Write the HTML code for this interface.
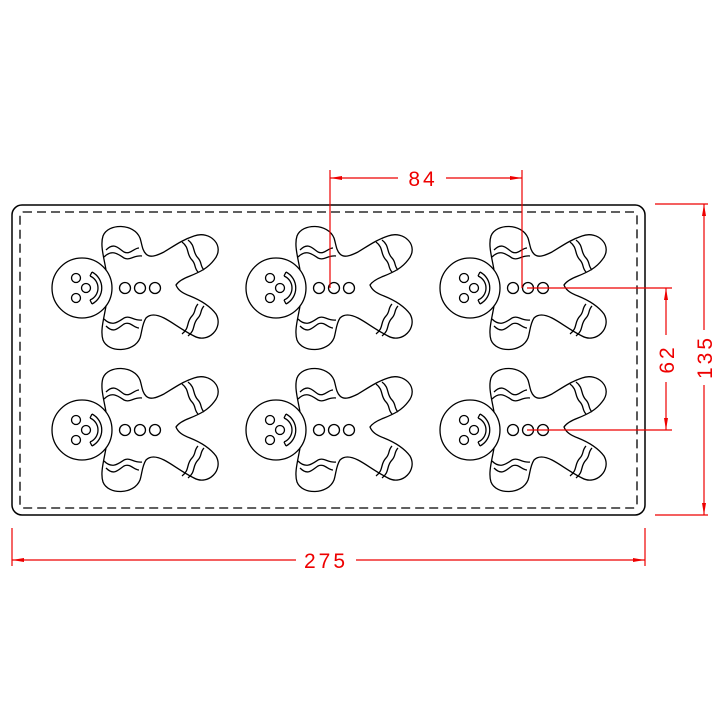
<!DOCTYPE html>
<html><head><style>body{margin:0;background:#fff}svg{display:block}</style></head><body>
<svg width="720" height="720" viewBox="0 0 720 720" xmlns="http://www.w3.org/2000/svg">
<defs>
<g id="m" fill="none" stroke="#000" stroke-width="1.3">
<circle cx="0" cy="0" r="30"/>
<path d="M24,-18 C22,-30 18,-43 21,-52 C26,-65 52,-65 58,-50 C60,-44 60,-38 64,-34 C68,-30 74,-32 82,-36 C92,-42 100,-48 112,-52 C128,-58 144,-42 132,-28 C126,-20 118,-16 108,-12 C100,-9 96,-6 94,-3 C96,2 100,5 108,8 C118,12 128,18 134,26 C142,40 126,56 112,48 C100,42 90,34 82,30 C74,26 68,26 64,30 C60,36 60,44 58,50 C52,65 26,65 21,52 C18,43 22,30 24,18"/>
<path d="M24,-38 C32,-46 36,-40 42,-36 C48,-33 52,-40 57,-40 M22,-31 C30,-39 36,-34 42,-30 C48,-27 52,-33 60,-32"/>
<path d="M24,38 C32,46 36,40 42,36 C48,33 52,40 57,40 M22,31 C30,39 36,34 42,30 C48,27 52,33 60,32"/>
<path d="M100,-46 C108,-40 104,-34 110,-28 C114,-24 112,-20 116,-16 M106,-48 C114,-42 110,-36 116,-30 C120,-26 118,-22 122,-18"/>
<path d="M100,46 C108,40 104,34 110,28 C114,24 112,20 116,16 M106,48 C114,42 110,36 116,30 C120,26 118,22 122,18"/>
<circle cx="-6" cy="-10" r="4.5"/><circle cx="-6" cy="10" r="4.5"/><circle cx="4" cy="0" r="4.5"/>
<path d="M8,-12 A13,13 0 0 1 8,12 M10,-16 A18,18 0 0 1 10,16 M8,-12 L10,-16 M8,12 L10,16"/>
<circle cx="43" cy="0" r="5.5"/><circle cx="58" cy="0" r="5.5"/><circle cx="73" cy="0" r="5.5"/>
</g>
</defs>
<rect x="12" y="205" width="633" height="310" rx="10" fill="none" stroke="#000" stroke-width="1.5"/>
<rect x="20" y="212" width="617" height="296" rx="3" fill="none" stroke="#000" stroke-width="1.3" stroke-dasharray="9,5"/>
<use href="#m" x="82" y="288"/><use href="#m" x="276" y="288"/><use href="#m" x="470" y="288"/>
<use href="#m" x="82" y="430"/><use href="#m" x="276" y="430"/><use href="#m" x="470" y="430"/>
<g stroke="#e00" stroke-width="1.2" fill="none">
<path d="M12,528V566 M645,528V566 M12,560H296 M356,560H645"/>
<path d="M655,204H708 M655,515H708 M704,204V330 M704,385V515"/>
<path d="M527,288H672 M527,430H672 M666,288V335 M666,382V430"/>
<path d="M330,170V288 M522,170V288 M330,178H398 M446,178H522"/>
</g>
<g fill="#e00">
<path d="M12,560l12,-2v4z M645,560l-12,-2v4z"/>
<path d="M704,204l-2,12h4z M704,515l-2,-12h4z"/>
<path d="M666,288l-2,12h4z M666,430l-2,-12h4z"/>
<path d="M330,178l12,-2v4z M522,178l-12,-2v4z"/>
</g>
<g fill="#e00" font-family="Liberation Sans, sans-serif" font-size="21" text-anchor="middle">
<text x="326" y="568" letter-spacing="3">275</text>
<text x="423" y="186" letter-spacing="3">84</text>
<text transform="translate(674,359) rotate(-90)" letter-spacing="3">62</text>
<text transform="translate(712,357) rotate(-90)" letter-spacing="3">135</text>
</g>
</svg>
</body></html>
